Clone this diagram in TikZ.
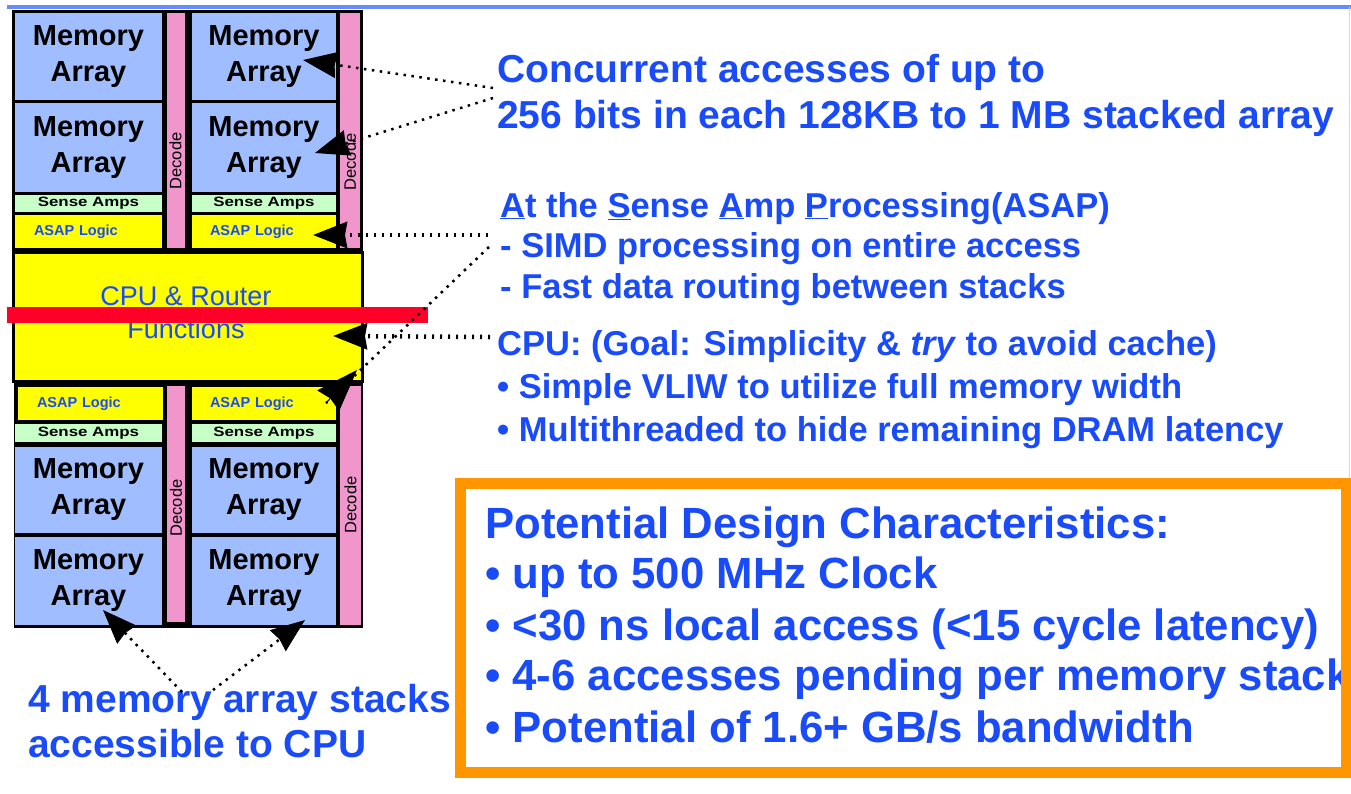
\documentclass[tikz,border=0pt]{standalone}
\usepackage{fontspec}
\setmainfont{Liberation Sans}
\usetikzlibrary{arrows.meta}
\definecolor{txtblue}{RGB}{25,75,250}
\definecolor{memblue}{RGB}{160,190,255}
\definecolor{decpink}{RGB}{240,150,205}
\definecolor{sensegreen}{RGB}{200,255,200}
\definecolor{asapyellow}{RGB}{255,255,0}
\definecolor{barred}{RGB}{255,0,40}
\definecolor{boxorange}{RGB}{255,150,0}
\definecolor{topblue}{RGB}{100,140,250}
\definecolor{edgeblue}{RGB}{200,215,250}
\newcommand{\wide}[1]{\scalebox{1.25}[1]{#1}}
\begin{document}
\begin{tikzpicture}[x=1pt,y=-1pt,
  blk/.style={inner sep=0, draw=none},
  membox/.style={blk, fill=memblue, align=center, text=black,
    font=\bfseries\fontsize{29}{36}\selectfont},
  sensebox/.style={blk, fill=sensegreen, text=black,
    font=\bfseries\fontsize{13.5}{14}\selectfont},
  asapbox/.style={blk, fill=asapyellow, text=txtblue, align=left,
    font=\bfseries\fontsize{14.5}{15}\selectfont},
  decbox/.style={blk, fill=decpink},
  dectext/.style={inner sep=0, rotate=90, text=black, font=\fontsize{16.5}{17}\selectfont},
  cpubox/.style={fill=asapyellow, draw=black, line width=3, inner sep=0},
  cputext/.style={align=center, text=txtblue, inner sep=0, font=\fontsize{27}{33}\selectfont},
  rtA/.style={anchor=base west, inner sep=0, text=txtblue, font=\bfseries\fontsize{39}{46}\selectfont},
  rtB/.style={anchor=base west, inner sep=0, text=txtblue, font=\bfseries\fontsize{34.5}{40}\selectfont},
  rtC/.style={anchor=base west, inner sep=0, text=txtblue, font=\bfseries\fontsize{39}{45}\selectfont},
  rtD/.style={anchor=base west, inner sep=0, text=txtblue, font=\bfseries\fontsize{43.7}{50}\selectfont},
  conn/.style={black, line width=2.5, dash pattern=on 2.5 off 5.5},
  connh/.style={black, line width=4.5, dash pattern=on 2 off 6},
  tiphead/.style={-{Stealth[length=34pt,width=26pt,inset=2pt]}},
  tipbig/.style={-{Stealth[length=42pt,width=30pt,inset=3pt]}}
]
\useasboundingbox (0,0) rectangle (1351,793);
\fill[white] (0,0) rectangle (1351,793);
\draw[topblue, line width=3.5] (7,7) -- (1351,7);
\draw[edgeblue, line width=1.5] (1349.5,7) -- (1349.5,480);

% ---------- top stacks ----------
\fill[black] (12,10) rectangle (363,251);
\node[membox, minimum width=147, minimum height=87] (m1) at (88.5,56.5) {Memory\\Array};
\node[membox, minimum width=147, minimum height=89] (m2) at (88.5,147.5) {Memory\\Array};
\node[sensebox, minimum width=147, minimum height=17] (s1) at (88.5,203.5) {\wide{Sense Amps}};
\node[asapbox, minimum width=147, minimum height=33, text width=109, inner xsep=19] (a1) at (88.5,231.5) {ASAP Logic};
\node[decbox, minimum width=18, minimum height=235] (d1) at (176,130.5) {};
\node[dectext] (dt1) at (175.5,161) {Decode};

\node[membox, minimum width=144, minimum height=87] (m5) at (264,56.5) {Memory\\Array};
\node[membox, minimum width=144, minimum height=89] (m6) at (264,147.5) {Memory\\Array};
\node[sensebox, minimum width=144, minimum height=17] (s2) at (264,203.5) {\wide{Sense Amps}};
\node[asapbox, minimum width=144, minimum height=33, text width=108, inner xsep=18] (a2) at (264,231.5) {ASAP Logic};
\node[decbox, minimum width=20, minimum height=235] (d2) at (350,130.5) {};
\node[dectext] (dt2) at (350,162) {Decode};

% ---------- CPU ----------
\node[cpubox, minimum width=349, minimum height=129] (cpu) at (187.5,316.5) {};
\node[cputext] (cput) at (186,313) {CPU \& Router\\Functions};

% ---------- bottom stacks ----------
\fill[black] (14,383) rectangle (363,628);
\node[asapbox, minimum width=145, minimum height=33, text width=107, inner xsep=19] (a3) at (90.5,403.5) {ASAP Logic};
\node[sensebox, minimum width=147, minimum height=18] (s3) at (88.5,433) {\wide{Sense Amps}};
\node[membox, minimum width=147, minimum height=86] (m3) at (88.5,490) {Memory\\Array};
\node[membox, minimum width=147, minimum height=88] (m4) at (88.5,581) {Memory\\Array};
\node[decbox, minimum width=18, minimum height=236] (d3) at (176,504) {};
\node[dectext] (dt3) at (176,508) {Decode};

\node[asapbox, minimum width=144, minimum height=33, text width=108, inner xsep=18] (a4) at (264,403.5) {ASAP Logic};
\node[sensebox, minimum width=144, minimum height=18] (s4) at (264,433) {\wide{Sense Amps}};
\node[membox, minimum width=144, minimum height=86] (m7) at (264,490) {Memory\\Array};
\node[membox, minimum width=144, minimum height=88] (m8) at (264,581) {Memory\\Array};
\node[decbox, minimum width=21, minimum height=239] (d4) at (350.5,505.5) {};
\node[dectext] (dt4) at (350.5,505) {Decode};

% red bar
\fill[barred] (7,307) rectangle (428,323);

% ---------- right texts ----------
\node[rtA] (c1) at (497,82) {Concurrent accesses of up to};
\node[rtA] (c2) at (497,128) {256 bits in each 128KB to 1 MB stacked array};
\node[rtB] (as0) at (500,217) {\underline{A}t the \underline{S}ense \underline{A}mp \underline{P}rocessing(ASAP)};
\node[rtB] (as1) at (500,257) {- SIMD processing on entire access};
\node[rtB] (as2) at (500,298) {- Fast data routing between stacks};
\node[rtB] (cp0) at (497,355) {CPU: (Goal: Simplicity \& \textit{try} to avoid cache)};
\node[rtB] (cp1) at (497,398) {• Simple VLIW to utilize full memory width};
\node[rtB] (cp2) at (497,441) {• Multithreaded to hide remaining DRAM latency};
\node[rtC] (st0) at (28,712) {4 memory array stacks};
\node[rtC] (st1) at (28,757) {accessible to CPU};

\node[rtD] (p0) at (485,538) {Potential Design Characteristics:};
\node[rtD] (p1) at (485,588) {• up to 500 MHz Clock};
\node[rtD] (p2) at (485,640) {• <30 ns local access (<15 cycle latency)};
\node[rtD] (p3) at (485,690) {• 4-6 accesses pending per memory stack};
\node[rtD] (p4) at (485,742) {• Potential of 1.6+ GB/s bandwidth};
\draw[boxorange, line width=11] (460.5,483) rectangle (1346,772.5);

% ---------- connectors ----------
\coordinate (t1) at (303,60);  \coordinate (e1) at (493,88);
\coordinate (t2) at (315,153); \coordinate (e2) at (493,98);
\coordinate (t3) at (313,235); \coordinate (e3) at (488,235);
\coordinate (b4) at (326,403); \coordinate (t4) at (357,370); \coordinate (e4) at (489,247);
\coordinate (t5) at (333,336); \coordinate (e5) at (490,337);
\coordinate (t6) at (103,610); \coordinate (e6) at (182,692);
\coordinate (t7) at (305,620); \coordinate (e7) at (213,690);

\draw[conn, tiphead] (e1) -- (t1);
\draw[conn, tiphead] (e2) -- (t2);
\draw[connh, tiphead] (e3) -- (t3);
\draw[conn] (e4) -- (b4);
\draw[line width=1, tipbig] (b4) -- (t4);
\draw[connh, tiphead] (e5) -- (t5);
\draw[conn, tiphead] (e6) -- (t6);
\draw[conn, tiphead] (e7) -- (t7);
\end{tikzpicture}
\end{document}
